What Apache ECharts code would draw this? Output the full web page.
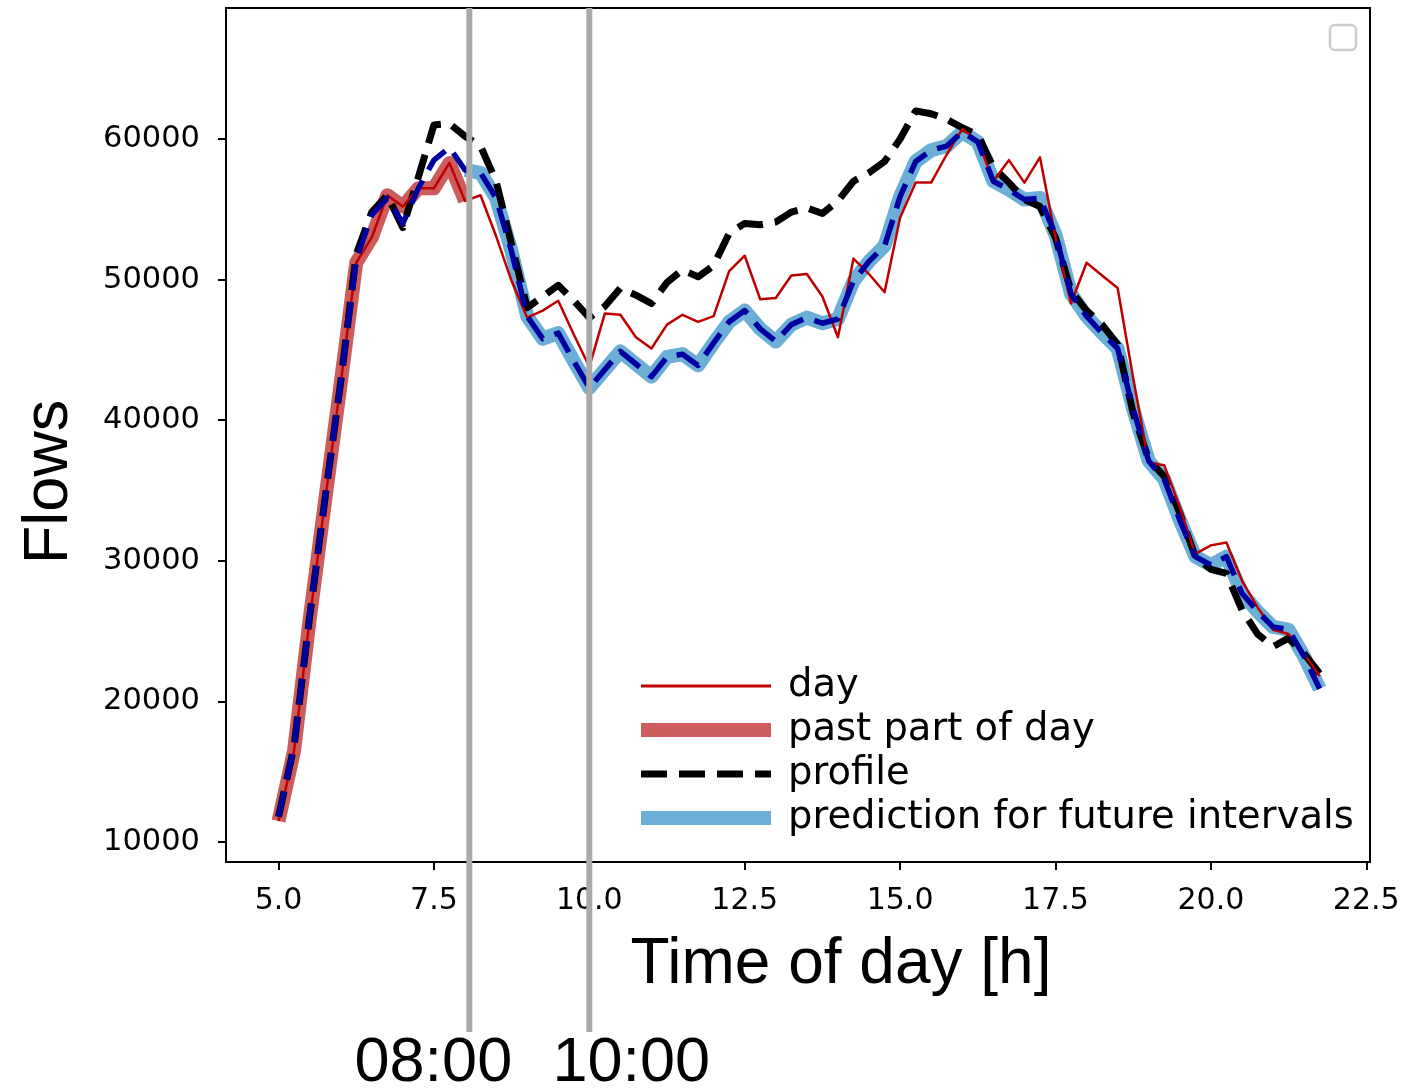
<!DOCTYPE html>
<html>
<head>
<meta charset="utf-8">
<script src="https://cdn.jsdelivr.net/npm/echarts@6/dist/echarts.min.js"></script>
<style>
  html, body { margin: 0; padding: 0; background: #ffffff; }
  #chart { width: 1404px; height: 1090px; }
</style>
</head>
<body>
<div id="chart"></div>
<script>
// Time of day in hours, 15-minute intervals
const hours = [
  5.0, 5.25, 5.5, 5.75, 6.0, 6.25, 6.5, 6.75, 7.0, 7.25, 7.5, 7.75,
  8.0, 8.25, 8.5, 8.75, 9.0, 9.25, 9.5, 9.75, 10.0, 10.25, 10.5, 10.75,
  11.0, 11.25, 11.5, 11.75, 12.0, 12.25, 12.5, 12.75, 13.0, 13.25, 13.5, 13.75,
  14.0, 14.25, 14.5, 14.75, 15.0, 15.25, 15.5, 15.75, 16.0, 16.25, 16.5, 16.75,
  17.0, 17.25, 17.5, 17.75, 18.0, 18.25, 18.5, 18.75, 19.0, 19.25, 19.5, 19.75,
  20.0, 20.25, 20.5, 20.75, 21.0, 21.25, 21.5, 21.75
];

// Observed flows for the whole day
const dayFlows = [
  11500, 16500, 25800, 34300, 42600, 51200, 53000, 56000, 55200, 56500, 56500, 58300,
  55600, 56000, 53100, 49900, 47300, 47800, 48500, 46100, 43800, 47600, 47500, 45900,
  45100, 46800, 47500, 47000, 47400, 50600, 51700, 48600, 48700, 50300, 50400, 48800,
  45900, 51500, 50400, 49100, 54400, 56900, 56900, 58900, 60700, 59900, 57000, 58500,
  56900, 58700, 53000, 48300, 51200, 50300, 49400, 43000, 37000, 36800, 33800, 30500,
  31100, 31300, 28600, 26700, 25100, 24800, 23400, 21800
];

// Number of leading intervals already observed (05:00 .. 08:00)
const pastCount = 13;

// Typical daily profile
const profileFlows = [
  11800, 16800, 26000, 34500, 42700, 51800, 54800, 56000, 53700, 57300, 61000, 61100,
  60200, 59500, 57000, 52500, 48000, 48800, 49600, 48500, 47300, 48100, 49400, 48900,
  48300, 49800, 50700, 50200, 51000, 53300, 54000, 53900, 54100, 54800, 55100, 54700,
  55600, 57000, 57600, 58400, 60000, 62000, 61800, 61400, 60800, 60300, 58000, 56900,
  55700, 55200, 53000, 49200, 47800, 46800, 45400, 40500, 37200, 36000, 33400, 30300,
  29400, 29100, 26500, 24800, 23900, 24500, 23400, 22000
];

// Predicted flows from 08:00 onwards
const predictionFlows = [
  57800, 57600, 55800, 52000, 47400, 45800, 46200, 44200, 42300, 43600, 44900, 44000,
  43100, 44500, 44700, 43900, 45500, 47000, 47800, 46500, 45600, 46800, 47300, 46900,
  47200, 49900, 51300, 52400, 55900, 58400, 59200, 59500, 60500, 59800, 57000, 56400,
  55700, 55800, 53200, 49000, 47400, 46200, 45100, 40800, 37100, 35800, 32900, 30300,
  29700, 30300, 27700, 26400, 25300, 25100, 23200, 20900
];

// Model fit over the observed morning, continued by the prediction
const fittedMorning = [11800, 16800, 26000, 34500, 42700, 51400, 54600, 55800, 54000, 56500, 58500, 59400];
const fittedFlows = fittedMorning.concat(predictionFlows);

// Axis ticks
const xTicks = [5.0, 7.5, 10.0, 12.5, 15.0, 17.5, 20.0, 22.5];
const yTicks = [10000, 20000, 30000, 40000, 50000, 60000];

// Split times marked below the axis
const splitTimes = [8.07, 10.0];
const splitLabels = ['08:00', '10:00'];

const names = ['day', 'past part of day', 'profile', 'prediction for future intervals'];

const pair = (xs, ys) => ys.map((v, i) => [xs[i], v]);
const futureHours = hours.slice(pastCount - 1);

const GRID = { left: 226, right: 34, top: 8, bottom: 228 };
const sans = 'DejaVu Sans';
const labelFont = '"Liberation Sans", Arial, sans-serif';
const noDot = { opacity: 0 };

const option = {
  animation: false,
  backgroundColor: '#ffffff',
  grid: Object.assign({ show: true, borderColor: '#000', borderWidth: 2, backgroundColor: 'transparent' }, GRID),
  xAxis: {
    type: 'value',
    min: 4.155,
    max: 22.56,
    name: 'Time of day [h]',
    nameLocation: 'middle',
    nameGap: 71,
    nameTextStyle: { fontFamily: labelFont, fontSize: 64, color: '#000', padding: [0, 0, 0, 86] },
    axisLine: { show: true, onZero: false, lineStyle: { color: '#000', width: 2 } },
    axisTick: { show: true, customValues: xTicks, length: 8, lineStyle: { color: '#000', width: 2 } },
    axisLabel: {
      customValues: xTicks, margin: 24, color: '#000', fontFamily: sans, fontSize: 30,
      formatter: v => v.toFixed(1)
    },
    splitLine: { show: false }
  },
  yAxis: {
    type: 'value',
    min: 8580,
    max: 69320,
    name: 'Flows',
    nameLocation: 'middle',
    nameGap: 145,
    nameRotate: 90,
    nameTextStyle: { fontFamily: labelFont, fontSize: 63, color: '#000', padding: [0, 94, 0, 0] },
    axisLine: { show: true, onZero: false, lineStyle: { color: '#000', width: 2 } },
    axisTick: { show: true, customValues: yTicks, length: 8, lineStyle: { color: '#000', width: 2 } },
    axisLabel: {
      customValues: yTicks, margin: 26, color: '#000', fontFamily: sans, fontSize: 30.5,
      formatter: v => String(v)
    },
    splitLine: { show: false }
  },
  legend: {
    orient: 'vertical',
    left: 634,
    top: 666,
    padding: 0,
    itemWidth: 130,
    itemHeight: 14,
    itemGap: 4,
    selectedMode: false,
    textStyle: { fontFamily: sans, fontSize: 38.5, color: '#000', lineHeight: 40, padding: [0, 0, 0, 12] },
    data: [
      { name: names[0], itemStyle: noDot, lineStyle: { color: '#c00000', width: 3, type: 'solid' } },
      { name: names[1], itemStyle: noDot, lineStyle: { color: '#cd5c5c', width: 14, type: 'solid', cap: 'butt' } },
      { name: names[2], itemStyle: noDot, lineStyle: { color: '#000000', width: 7, type: [26, 12], cap: 'butt' } },
      { name: names[3], itemStyle: noDot, lineStyle: { color: '#6baed6', width: 14, type: 'solid', cap: 'butt' } }
    ]
  },
  series: [
    {
      name: names[3], type: 'line', z: 2, symbol: 'none', silent: true,
      data: pair(futureHours, predictionFlows),
      lineStyle: { color: '#6baed6', width: 14, cap: 'butt', join: 'round' }
    },
    {
      name: names[1], type: 'line', z: 2, symbol: 'none', silent: true,
      data: pair(hours, dayFlows.slice(0, pastCount)),
      lineStyle: { color: '#cd5c5c', width: 14, cap: 'butt', join: 'round' }
    },
    {
      name: names[2], type: 'line', z: 3, symbol: 'none', silent: true,
      data: pair(hours, profileFlows),
      lineStyle: { color: '#000000', width: 7, type: [26, 12], cap: 'butt', join: 'round' }
    },
    {
      name: names[0], type: 'line', z: 4, symbol: 'none', silent: true,
      data: pair(hours, dayFlows),
      lineStyle: { color: '#c00000', width: 2.5, join: 'round' }
    },
    {
      name: 'fit', type: 'line', z: 5, symbol: 'none', silent: true,
      data: pair(hours, fittedFlows),
      lineStyle: { color: '#0000a0', width: 5.5, type: [26, 12], cap: 'butt', join: 'round' }
    }
  ]
};

const chart = echarts.init(document.getElementById('chart'), null, { renderer: 'canvas' });
chart.setOption(option);

// Vertical split markers running from the top of the plot down past the axis title
const labelShift = [-36, 42];
const graphics = [];
splitTimes.forEach((t, i) => {
  const x = chart.convertToPixel({ xAxisIndex: 0 }, t);
  graphics.push({
    type: 'line', z: 100, silent: true,
    shape: { x1: x, y1: GRID.top, x2: x, y2: 1032 },
    style: { stroke: '#aaaaaa', lineWidth: 6 }
  });
  graphics.push({
    type: 'text', z: 100, silent: true,
    x: x + labelShift[i], y: 1064,
    style: {
      text: splitLabels[i], fill: '#000', font: '63px "Liberation Sans", Arial, sans-serif',
      align: 'center', verticalAlign: 'middle'
    }
  });
});
// Empty legend frame in the upper right corner
graphics.push({
  type: 'rect', z: 50, silent: true,
  shape: { x: 1330, y: 25, width: 26, height: 25, r: 5 },
  style: { fill: '#ffffff', stroke: '#cccccc', lineWidth: 2.5 }
});
chart.setOption({ graphic: graphics });
</script>
</body>
</html>
